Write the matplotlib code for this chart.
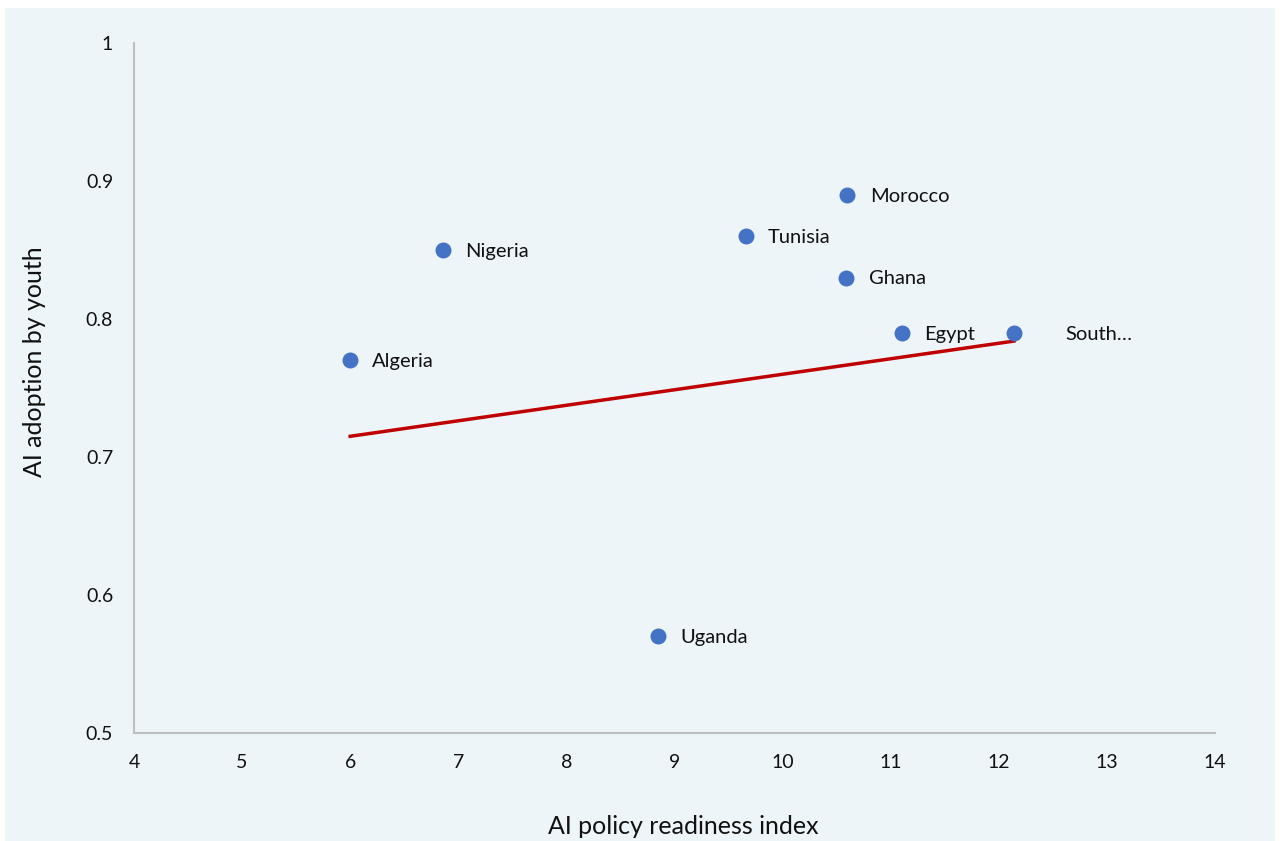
import matplotlib.pyplot as plt
from matplotlib.patches import Rectangle

countries = ['Algeria', 'Nigeria', 'Uganda', 'Tunisia', 'Morocco', 'Ghana', 'Egypt', 'South…']
readiness = [6.0, 6.86, 8.85, 9.66, 10.6, 10.59, 11.1, 12.14]
adoption = [0.77, 0.85, 0.57, 0.86, 0.89, 0.83, 0.79, 0.79]

# linear trend shown across the data range
trend_x = [6.0, 12.14]
trend_y = [0.715, 0.784]

x_ticks = [4, 5, 6, 7, 8, 9, 10, 11, 12, 13, 14]
y_ticks = [0.5, 0.6, 0.7, 0.8, 0.9, 1]
y_tick_labels = ['0.5', '0.6', '0.7', '0.8', '0.9', '1']

plt.rcParams['font.family'] = ['Lato', 'DejaVu Sans']
bg = '#EEF5F9'
ink = '#111111'

fig = plt.figure(figsize=(12.81, 8.41), dpi=100)
fig.patch.set_facecolor('white')
fig.patches.append(Rectangle((5 / 1281, 0), 1270 / 1281, 1 - 8 / 841,
                             transform=fig.transFigure, facecolor=bg,
                             edgecolor='none', zorder=-10))

ax = fig.add_axes([134 / 1281, 1 - 733 / 841, 1081 / 1281, 690 / 841])
ax.set_facecolor(bg)

ax.plot(trend_x, trend_y, color='#C00000', linewidth=2.5, zorder=2)
ax.scatter(readiness, adoption, s=110, color='#4472C4', zorder=3)
for name, x, y in zip(countries, readiness, adoption):
    # the truncated last label sits further out from its point
    dx = 37 if name.endswith('…') else 16
    ax.annotate(name, (x, y), xytext=(dx, -1), textcoords='offset points',
                va='center', ha='left', fontsize=14.5, color=ink)

ax.set_xlim(4, 14)
ax.set_ylim(0.5, 1)
ax.set_xticks(x_ticks)
ax.set_yticks(y_ticks)
ax.set_yticklabels(y_tick_labels)
ax.tick_params(length=0, labelsize=14, colors=ink)
ax.tick_params(axis='x', pad=15)
ax.tick_params(axis='y', pad=15)

for side in ['top', 'right']:
    ax.spines[side].set_visible(False)
for side in ['left', 'bottom']:
    ax.spines[side].set_color('#BFBFBF')
    ax.spines[side].set_linewidth(1.5)

fig.text(683 / 1281, 1 - 826 / 841, 'AI policy readiness index',
         ha='center', va='center', fontsize=18, color=ink)
fig.text(35 / 1281, 1 - 362 / 841, 'AI adoption by youth', rotation=90,
         ha='center', va='center', fontsize=18, color=ink)

fig.savefig('out.png', dpi=100)
